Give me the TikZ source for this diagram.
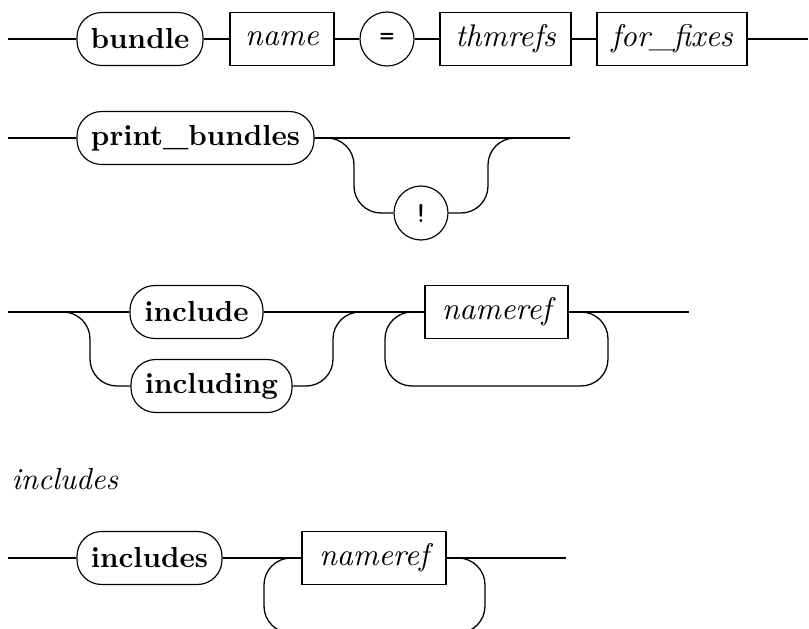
\documentclass[tikz,border=0pt]{standalone}
\begin{document}
\begin{tikzpicture}[x=0.345pt,y=-0.345pt,
  term/.style={draw,rounded corners=8.5pt,minimum height=53*0.345pt,inner sep=0pt,font=\fontsize{10}{12}\selectfont\bfseries},
  nonterm/.style={draw,minimum height=53*0.345pt,inner sep=0pt,font=\fontsize{10.8}{13}\selectfont\itshape},
  sym/.style={draw,circle,minimum size=54*0.345pt,inner sep=0pt,font=\fontsize{10}{12}\selectfont\ttfamily},
  label/.style={anchor=base west,inner sep=0pt,font=\fontsize{10.5}{13}\selectfont\itshape},
  rail/.style={line width=0.45pt,rounded corners=9.3pt}]
\useasboundingbox (0,0) rectangle (809,628);
\clip (0,0) rectangle (809,628);
% ---- row 1
\coordinate (s1) at (8,39);
\coordinate (e1) at (808,39);
\node[term,minimum width=126*0.345pt] (bundle) at (140,39) {bundle};
\node[nonterm,minimum width=104*0.345pt] (name) at (282,39) {name};
\node[sym] (eq) at (387,39) {=};
\node[nonterm,minimum width=131*0.345pt] (thm) at (505.5,39) {thmrefs};
\node[nonterm,minimum width=150*0.345pt] (fix) at (672,39) {for\_fixes};
\draw[rail] (s1) -- (bundle) -- (name) -- (eq) -- (thm) -- (fix) -- (e1);
% ---- row 2
\coordinate (s2) at (8,138);
\coordinate (e2) at (570,138);
\coordinate (b2l) at (354,213);
\coordinate (b2t) at (488,138);
\node[term,minimum width=237*0.345pt] (pb) at (195.5,138) {print\_bundles};
\node[sym] (bang) at (421,213) {!};
\draw[rail] (s2) -- (pb.west);
\draw[rail] (pb.east) -- (e2);
\draw[rail] (pb.east) -| (b2l) -- (bang.west);
\draw[rail] (bang.east) -| (b2t) -- (e2);
% ---- row 3
\coordinate (s3) at (8,312);
\coordinate (e3) at (689,312);
\coordinate (j3l) at (90,386);
\coordinate (j3r) at (333,312);
\coordinate (l3r) at (608,386);
\coordinate (l3l) at (385,312);
\node[term,minimum width=133*0.345pt] (inc) at (196.5,312) {include};
\node[term,minimum width=161*0.345pt] (incl) at (211.5,386) {including};
\node[nonterm,minimum width=143*0.345pt] (nr3) at (496.5,312) {nameref};
\draw[rail] (s3) -- (inc.west);
\draw[rail] (s3) -| (j3l) -- (incl.west);
\draw[rail] (inc.east) -- (nr3.west);
\draw[rail] (incl.east) -| (j3r) -- (nr3.west);
\draw[rail] (nr3.east) -- (e3);
\draw[rail] (nr3.east) -| (l3r) -| (l3l) -- (nr3.west);
% ---- row 4
\node[label] (lbl) at (11,489) {includes};
\coordinate (s4) at (8,558);
\coordinate (e4) at (566,558);
\coordinate (l4r) at (485,633);
\coordinate (l4l) at (264,558);
\node[term,minimum width=145*0.345pt] (incs) at (149.5,558) {includes};
\node[nonterm,minimum width=144*0.345pt] (nr4) at (374,558) {nameref};
\draw[rail] (s4) -- (incs) -- (nr4) -- (e4);
\draw[rail] (nr4.east) -| (l4r) -| (l4l) -- (nr4.west);
\end{tikzpicture}
\end{document}
